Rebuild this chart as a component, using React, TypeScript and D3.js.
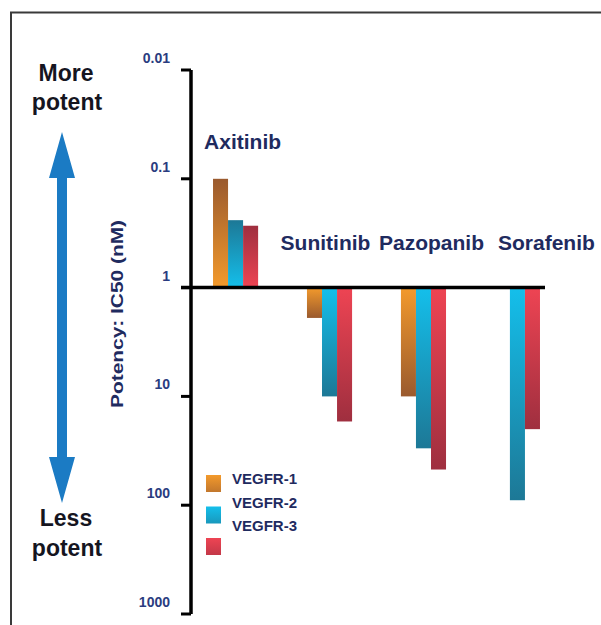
import React from "react";
import * as d3 from "d3";

// Kinase inhibitor potency (IC50, nM) against VEGF receptors
const drugs = ["Axitinib", "Sunitinib", "Pazopanib", "Sorafenib"];
const receptors = ["VEGFR-1", "VEGFR-2", "VEGFR-3"];
const vegfr1: (number | null)[] = [0.1, 1.9, 10, null];
const vegfr2: (number | null)[] = [0.24, 10, 30, 90];
const vegfr3: (number | null)[] = [0.27, 17, 47, 20];
const tickValues = [0.01, 0.1, 1, 10, 100, 1000];
const tickLabels = ["0.01", "0.1", "1", "10", "100", "1000"];

const seriesValues = [vegfr1, vegfr2, vegfr3];

// bright end (at the baseline) and dark end (far end) of each bar gradient
const palette = [
  { bright: "#f39a2c", dark: "#9a5a2e" },
  { bright: "#14bfeb", dark: "#1d7896" },
  { bright: "#ee4453", dark: "#9f2f3f" },
];

// horizontal nudges for the drug name labels
const labelNudge = [7, -4, 8, 29];

const W = 601;
const H = 625;
const axisX = 191;
const navy = "#1f2b5f";
const font = "'Liberation Sans', Arial, sans-serif";

export default function App() {
  const y = d3.scaleLog().domain([0.01, 1000]).range([70, 614]);
  const x0 = d3
    .scaleBand<string>()
    .domain(drugs)
    .range([190, 563])
    .paddingInner(0.52)
    .paddingOuter(0.245);
  const x1 = d3
    .scaleBand<string>()
    .domain(receptors)
    .range([0, x0.bandwidth()])
    .padding(0);

  const base = y(1);

  const bars: React.ReactNode[] = [];
  drugs.forEach((drug, di) => {
    receptors.forEach((rec, ri) => {
      const v = seriesValues[ri][di];
      if (v == null) return;
      const yv = y(v);
      const top = Math.min(yv, base);
      const h = Math.abs(yv - base);
      const dir = v < 1 ? "up" : "down";
      bars.push(
        <rect
          key={`${drug}-${rec}`}
          x={(x0(drug) as number) + (x1(rec) as number)}
          y={top}
          width={x1.bandwidth()}
          height={h}
          fill={`url(#g-${ri}-${dir})`}
        />
      );
    });
  });

  const arrowX = 62;
  const tipTop = 132;
  const headTop = 178;
  const tipBot = 503;
  const headBot = 457;
  const hw = 13;
  const sw = 5;
  const arrowPath = [
    [arrowX, tipTop],
    [arrowX + hw, headTop],
    [arrowX + sw, headTop],
    [arrowX + sw, headBot],
    [arrowX + hw, headBot],
    [arrowX, tipBot],
    [arrowX - hw, headBot],
    [arrowX - sw, headBot],
    [arrowX - sw, headTop],
    [arrowX - hw, headTop],
  ]
    .map((p, i) => `${i ? "L" : "M"}${p[0]},${p[1]}`)
    .join("") + "Z";

  return (
    <div style={{ position: "fixed", left: 0, top: 0 }}>
      <svg width={W} height={H} style={{ display: "block", background: "#fff" }}>
        <defs>
          {palette.map((c, i) => (
            <React.Fragment key={i}>
              <linearGradient id={`g-${i}-up`} x1="0" y1="0" x2="0" y2="1">
                <stop offset="0%" stopColor={c.dark} />
                <stop offset="100%" stopColor={c.bright} />
              </linearGradient>
              <linearGradient id={`g-${i}-down`} x1="0" y1="0" x2="0" y2="1">
                <stop offset="0%" stopColor={c.bright} />
                <stop offset="100%" stopColor={c.dark} />
              </linearGradient>
              <linearGradient id={`g-${i}-key`} x1="0" y1="0" x2="0" y2="1">
                <stop offset="0%" stopColor={c.bright} />
                <stop offset="100%" stopColor={d3.interpolateRgb(c.bright, c.dark)(0.55)} />
              </linearGradient>
            </React.Fragment>
          ))}
        </defs>

        {/* frame */}
        <path d={`M11,${H} L11,12.5 L${W},12.5`} fill="none" stroke="#3a3a3a" strokeWidth={2} />

        {/* potency arrow */}
        <path d={arrowPath} fill="#1b7bc4" />
        <g fontFamily={font} fontWeight="bold" fontSize={23} fill="#15151f" textAnchor="middle">
          <text x={66} y={81}>More</text>
          <text x={67} y={110}>potent</text>
          <text x={66} y={526}>Less</text>
          <text x={67} y={556}>potent</text>
        </g>

        {/* axis title */}
        <text
          transform={`translate(123,314) rotate(-90)`}
          textAnchor="middle"
          fontFamily={font}
          fontWeight="bold"
          fontSize={16}
          fill={navy}
          textLength={188}
          lengthAdjust="spacingAndGlyphs"
        >
          Potency: IC50 (nM)
        </text>

        {/* bars */}
        <g>{bars}</g>

        {/* y axis */}
        <line x1={axisX} x2={axisX} y1={y(0.01)} y2={y(1000)} stroke="#000" strokeWidth={3.5} />
        {tickValues.map((t, i) => (
          <g key={t}>
            <line x1={181} x2={axisX} y1={y(t)} y2={y(t)} stroke="#000" strokeWidth={3} />
            <text
              x={170}
              y={y(t) - 12}
              dy="0.35em"
              textAnchor="end"
              fontFamily={font}
              fontWeight="bold"
              fontSize={14}
              fill="#2a3c80"
            >
              {tickLabels[i]}
            </text>
          </g>
        ))}

        {/* baseline at 1 nM */}
        <line x1={181} x2={545} y1={base} y2={base} stroke="#000" strokeWidth={3.5} />

        {/* drug names */}
        {drugs.map((d, i) => (
          <text
            key={d}
            x={(x0(d) as number) + x0.bandwidth() / 2 + labelNudge[i]}
            y={i === 0 ? 149 : 250}
            textAnchor="middle"
            fontFamily={font}
            fontWeight="bold"
            fontSize={21}
            fill={navy}
          >
            {d}
          </text>
        ))}

        {/* legend */}
        {receptors.map((r, i) => (
          <g key={r}>
            <rect x={206} y={475 + i * 31.5} width={15} height={17} fill={`url(#g-${i}-key)`} />
            <text
              x={232}
              y={479 + i * 23.5}
              dy="0.35em"
              fontFamily={font}
              fontWeight="bold"
              fontSize={15}
              fill={navy}
            >
              {r}
            </text>
          </g>
        ))}
      </svg>
    </div>
  );
}
